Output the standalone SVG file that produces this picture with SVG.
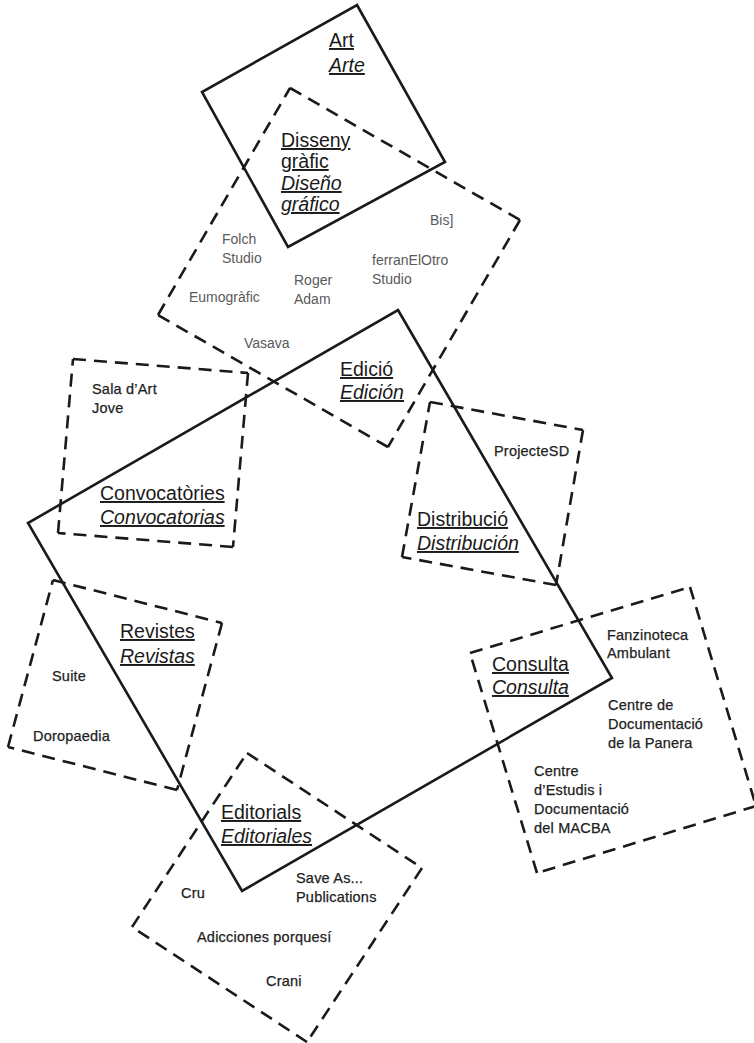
<svg xmlns="http://www.w3.org/2000/svg" width="754" height="1043" viewBox="0 0 754 1043">
<style>
.solid{fill:none;stroke:#1a1a1a;stroke-width:2.6;stroke-linejoin:miter}
.dash{fill:none;stroke:#1a1a1a;stroke-width:2.6;stroke-dasharray:13 8;stroke-linecap:butt}
.t{font-family:"Liberation Sans",Arial,sans-serif;font-size:19.5px;fill:#1a1a1a;text-decoration:underline}
.ti{font-style:italic}
.m{font-family:"Liberation Sans",Arial,sans-serif;font-size:14.5px;letter-spacing:0.2px;fill:#222;stroke:#222;stroke-width:0.25}
.g{font-family:"Liberation Sans",Arial,sans-serif;font-size:14px;fill:#5a5a5a}
</style>
<rect width="754" height="1043" fill="#ffffff"/>
<g id="art">
<path class="solid" d="M357 5 L445 162 L288 247 L202 92 Z"/>
<text class="t" x="329" y="47">Art</text>
<text class="t ti" x="329" y="72">Arte</text>
</g>
<g id="disseny">
<path class="dash" d="M290 88 L520 220 M520 220 L388 447 M388 447 L158 315 M158 315 L290 88"/>
<text class="t" x="281" y="147">Disseny</text>
<text class="t" x="281" y="168">gràfic</text>
<text class="t ti" x="281" y="190">Diseño</text>
<text class="t ti" x="281" y="211">gráfico</text>
<text class="g" x="430" y="225">Bis]</text>
<text class="g" x="222" y="244">Folch</text>
<text class="g" x="222" y="263">Studio</text>
<text class="g" x="294" y="285">Roger</text>
<text class="g" x="294" y="304">Adam</text>
<text class="g" x="372" y="265">ferranElOtro</text>
<text class="g" x="372" y="284">Studio</text>
<text class="g" x="189" y="302">Eumogràfic</text>
<text class="g" x="244" y="348">Vasava</text>
</g>
<g id="edicio">
<path class="solid" d="M398 310 L612 678 L242 891 L28 523 Z"/>
<text class="t" x="340" y="376">Edició</text>
<text class="t ti" x="340" y="399">Edición</text>
</g>
<g id="convocatories">
<path class="dash" d="M73 359 L248 373 M248 373 L233 547 M233 547 L58 533 M58 533 L73 359"/>
<text class="m" x="92" y="394">Sala d’Art</text>
<text class="m" x="92" y="413">Jove</text>
<text class="t" x="100" y="500">Convocatòries</text>
<text class="t ti" x="100" y="524">Convocatorias</text>
</g>
<g id="distribucio">
<path class="dash" d="M430 402 L583 430 M583 430 L556 585 M556 585 L402 557 M402 557 L430 402"/>
<text class="m" x="494" y="456">ProjecteSD</text>
<text class="t" x="417" y="526">Distribució</text>
<text class="t ti" x="417" y="550">Distribución</text>
</g>
<g id="revistes">
<path class="dash" d="M53 580 L222 623 M222 623 L177 790 M177 790 L8 747 M8 747 L53 580"/>
<text class="t" x="120" y="638">Revistes</text>
<text class="t ti" x="120" y="663">Revistas</text>
<text class="m" x="52" y="681">Suite</text>
<text class="m" x="33" y="741">Doropaedia</text>
</g>
<g id="consulta">
<path class="dash" d="M470 653 L690 587 M690 587 L756 806 M756 806 L537 873 M537 873 L470 653"/>
<text class="t" x="492" y="671">Consulta</text>
<text class="t ti" x="492" y="694">Consulta</text>
<text class="m" x="607" y="640">Fanzinoteca</text>
<text class="m" x="607" y="658">Ambulant</text>
<text class="m" x="608" y="710">Centre de</text>
<text class="m" x="608" y="729">Documentació</text>
<text class="m" x="608" y="748">de la Panera</text>
<text class="m" x="534" y="776">Centre</text>
<text class="m" x="534" y="795">d’Estudis i</text>
<text class="m" x="534" y="814">Documentació</text>
<text class="m" x="534" y="833">del MACBA</text>
</g>
<g id="editorials">
<path class="dash" d="M247 753 L422 868 M422 868 L307 1042 M307 1042 L132 927 M132 927 L247 753"/>
<text class="t" x="221" y="819">Editorials</text>
<text class="t ti" x="221" y="843">Editoriales</text>
<text class="m" x="181" y="898">Cru</text>
<text class="m" x="296" y="883">Save As...</text>
<text class="m" x="296" y="902">Publications</text>
<text class="m" x="197" y="942">Adicciones porquesí</text>
<text class="m" x="266" y="986">Crani</text>
</g>
<g id="connectors"/>
</svg>
